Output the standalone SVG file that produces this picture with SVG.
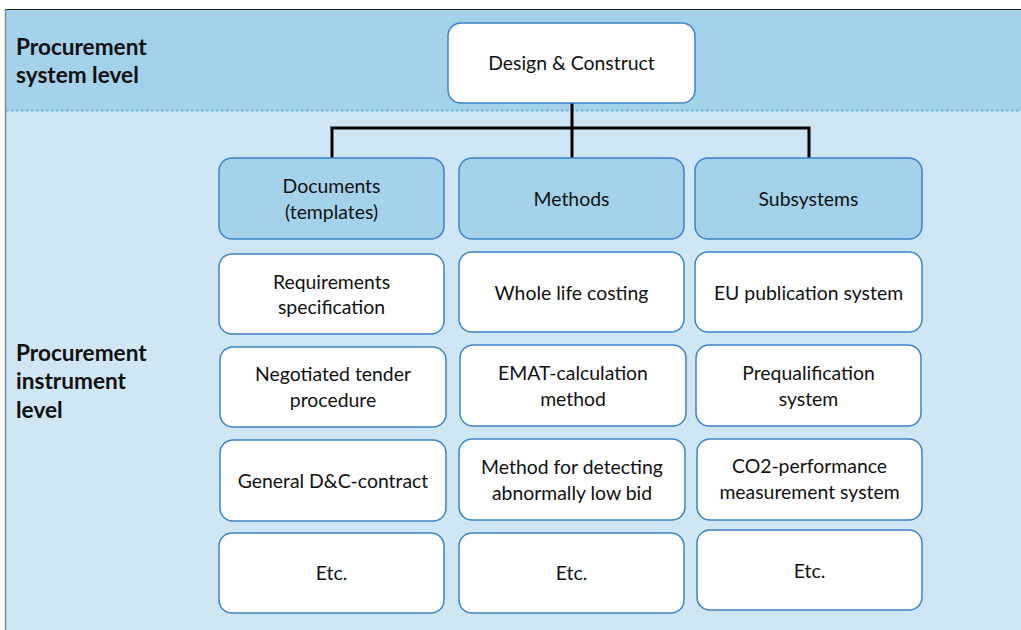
<svg xmlns="http://www.w3.org/2000/svg" width="1021" height="630" viewBox="0 0 1021 630">
  <style>
    .band-top { fill: #a3d2ea; }
    .band-low { fill: #cfe6f4; }
    .box { fill: #ffffff; stroke: #3d84c9; stroke-width: 1.5; }
    .head { fill: #a3d2ea; stroke: #3d84c9; stroke-width: 1.5; }
    .t { font-family: Lato, "Open Sans", sans-serif; font-size: 19.4px; fill: #111; text-anchor: middle; }
    .lvl { font-family: Lato, "Open Sans", sans-serif; font-size: 22.6px; font-weight: bold; fill: #111; }
    .conn { fill: none; stroke: #000; stroke-width: 3; }
  </style>

  <rect x="0" y="0" width="1021" height="630" fill="#ffffff"/>
  <!-- level bands -->
  <rect class="band-top" x="6" y="9" width="1015" height="102"/>
  <rect class="band-low" x="6" y="111" width="1015" height="519"/>
  <line x1="6" y1="110.5" x2="1021" y2="110.5" stroke="#7cbde6" stroke-width="2.5" stroke-dasharray="2.5 2.5"/>
  <line x1="6" y1="9.5" x2="1021" y2="9.5" stroke="#222" stroke-width="1.2"/>
  <line x1="5.5" y1="9" x2="5.5" y2="630" stroke="#888" stroke-width="1.5"/>

  <text class="lvl" x="16" y="55">Procurement</text>
  <text class="lvl" x="16" y="83">system level</text>
  <text class="lvl" x="16" y="361">Procurement</text>
  <text class="lvl" x="16" y="389">instrument</text>
  <text class="lvl" x="16" y="418">level</text>

  <g id="connectors">
    <path class="conn" d="M572 103 V128 M332 158 V128 H809 V158 M572 128 V158"/>
  </g>

  <g id="design-construct">
    <rect class="box" x="448" y="23" width="247" height="80" rx="13"/>
    <text class="t" x="571.5" y="70">Design &amp; Construct</text>
  </g>

  <!-- column headers -->
  <g id="documents">
    <rect class="head" x="219" y="158" width="225" height="81" rx="13"/>
    <text class="t" x="331.5" y="193">Documents</text>
    <text class="t" x="331.5" y="219">(templates)</text>
  </g>
  <g id="methods">
    <rect class="head" x="459" y="158" width="225" height="81" rx="13"/>
    <text class="t" x="571.5" y="206">Methods</text>
  </g>
  <g id="subsystems">
    <rect class="head" x="695" y="158" width="227" height="81" rx="13"/>
    <text class="t" x="808.5" y="206">Subsystems</text>
  </g>

  <!-- documents column -->
  <g id="requirements-specification">
    <rect class="box" x="219" y="254" width="225" height="80" rx="13"/>
    <text class="t" x="331.5" y="289">Requirements</text>
    <text class="t" x="331.5" y="314">specification</text>
  </g>
  <g id="negotiated-tender">
    <rect class="box" x="220" y="347" width="226" height="80" rx="13"/>
    <text class="t" x="333" y="381">Negotiated tender</text>
    <text class="t" x="333" y="407">procedure</text>
  </g>
  <g id="general-dc-contract">
    <rect class="box" x="220" y="440" width="226" height="81" rx="13"/>
    <text class="t" x="333" y="488">General D&amp;C-contract</text>
  </g>
  <g id="documents-etc">
    <rect class="box" x="219" y="533" width="225" height="80" rx="13"/>
    <text class="t" x="331.5" y="580">Etc.</text>
  </g>

  <!-- methods column -->
  <g id="whole-life-costing">
    <rect class="box" x="459" y="252" width="225" height="80" rx="13"/>
    <text class="t" x="571.5" y="300">Whole life costing</text>
  </g>
  <g id="emat-calculation">
    <rect class="box" x="460" y="345" width="226" height="81" rx="13"/>
    <text class="t" x="573" y="380">EMAT-calculation</text>
    <text class="t" x="573" y="406">method</text>
  </g>
  <g id="abnormally-low-bid">
    <rect class="box" x="459" y="439" width="226" height="81" rx="13"/>
    <text class="t" x="572" y="474">Method for detecting</text>
    <text class="t" x="572" y="500">abnormally low bid</text>
  </g>
  <g id="methods-etc">
    <rect class="box" x="459" y="533" width="225" height="80" rx="13"/>
    <text class="t" x="571.5" y="580">Etc.</text>
  </g>

  <!-- subsystems column -->
  <g id="eu-publication">
    <rect class="box" x="695" y="252" width="227" height="80" rx="13"/>
    <text class="t" x="808.5" y="300">EU publication system</text>
  </g>
  <g id="prequalification">
    <rect class="box" x="696" y="345" width="225" height="81" rx="13"/>
    <text class="t" x="808.5" y="380">Prequalification</text>
    <text class="t" x="808.5" y="406">system</text>
  </g>
  <g id="co2-performance">
    <rect class="box" x="697" y="439" width="225" height="81" rx="13"/>
    <text class="t" x="809.5" y="473">CO2-performance</text>
    <text class="t" x="809.5" y="499">measurement system</text>
  </g>
  <g id="subsystems-etc">
    <rect class="box" x="697" y="530" width="225" height="80" rx="13"/>
    <text class="t" x="809.5" y="578">Etc.</text>
  </g>
</svg>
